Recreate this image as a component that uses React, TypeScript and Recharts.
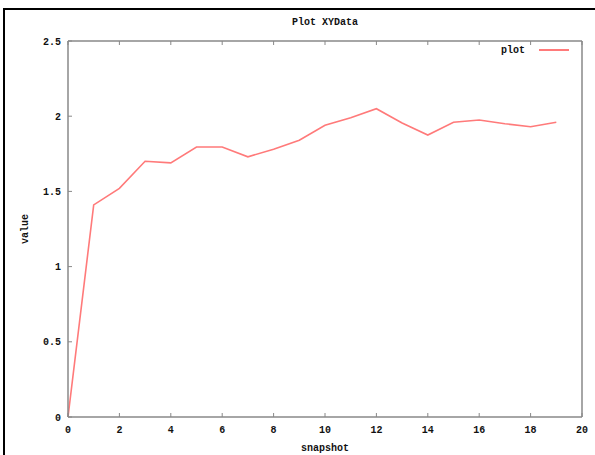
import { LineChart, Line, XAxis, YAxis, Label, Customized } from 'recharts'

// gnuplot "Plot XYData": value per snapshot
const snapshots = [0, 1, 2, 3, 4, 5, 6, 7, 8, 9, 10, 11, 12, 13, 14, 15, 16, 17, 18, 19]
const values = [0, 1.41, 1.52, 1.7, 1.69, 1.795, 1.795, 1.73, 1.78, 1.84, 1.94, 1.99, 2.05, 1.955, 1.875, 1.96, 1.975, 1.95, 1.93, 1.96]
const xTicks = [0, 2, 4, 6, 8, 10, 12, 14, 16, 18, 20]
const yTicks = [0, 0.5, 1, 1.5, 2, 2.5]

const data = snapshots.map((s, i) => ({ x: s, plot: values[i] }))

const FONT = '"Liberation Mono", "DejaVu Sans Mono", monospace'
const FRAME = '#888888'
const LINE = '#ff7a7a'
const tickStyle = { fontFamily: FONT, fontSize: 10, fontWeight: 700, fill: '#111' }

// black edge of the original image (top + left only)
function OuterFrame() {
  return (
    <g>
      <line x1={3} y1={9} x2={595} y2={9} stroke="#000" strokeWidth={2} />
      <line x1={4} y1={8} x2={4} y2={455} stroke="#000" strokeWidth={2} />
    </g>
  )
}

function PlotLegend() {
  return (
    <g>
      <text x={525} y={53} textAnchor="end" style={tickStyle}>plot</text>
      <line x1={539} y1={50} x2={569} y2={50} stroke={LINE} strokeWidth={2} />
    </g>
  )
}

export default function App() {
  return (
    <div style={{ position: 'absolute', left: 0, top: 0, width: 595, height: 455, background: '#fff' }}>
      <LineChart width={595} height={455} data={data} margin={{ top: 40, right: 12, bottom: 8, left: 8 }}>
        <Customized component={OuterFrame} />
        <XAxis
          dataKey="x"
          type="number"
          domain={[0, 20]}
          ticks={xTicks}
          tickSize={-4}
          tickMargin={13}
          tick={tickStyle}
          axisLine={{ stroke: FRAME, strokeWidth: 1.5 }}
          tickLine={{ stroke: FRAME }}
          height={30}
        >
          <Label value="snapshot" position="insideBottom" offset={-4} style={tickStyle} />
        </XAxis>
        <XAxis
          xAxisId="top"
          orientation="top"
          dataKey="x"
          type="number"
          domain={[0, 20]}
          ticks={xTicks}
          tickSize={-4}
          tickFormatter={() => ''}
          axisLine={{ stroke: FRAME, strokeWidth: 1.5 }}
          tickLine={{ stroke: FRAME }}
          height={1}
        >
          <Label value="Plot XYData" position="top" offset={15} style={tickStyle} />
        </XAxis>
        <YAxis
          type="number"
          domain={[0, 2.5]}
          ticks={yTicks}
          tickSize={-4}
          tickMargin={11}
          tick={tickStyle}
          axisLine={{ stroke: FRAME, strokeWidth: 1.5 }}
          tickLine={{ stroke: FRAME }}
          width={60}
        >
          <Label value="value" angle={-90} position="insideLeft" offset={16} style={{ ...tickStyle, textAnchor: 'middle' }} />
        </YAxis>
        <YAxis
          yAxisId="right"
          orientation="right"
          type="number"
          domain={[0, 2.5]}
          ticks={yTicks}
          tickSize={-4}
          tickFormatter={() => ''}
          axisLine={{ stroke: FRAME, strokeWidth: 1.5 }}
          tickLine={{ stroke: FRAME }}
          width={1}
        />
        <Line
          type="linear"
          dataKey="plot"
          stroke={LINE}
          strokeWidth={1.6}
          dot={false}
          isAnimationActive={false}
        />
        <Customized component={PlotLegend} />
      </LineChart>
    </div>
  )
}
